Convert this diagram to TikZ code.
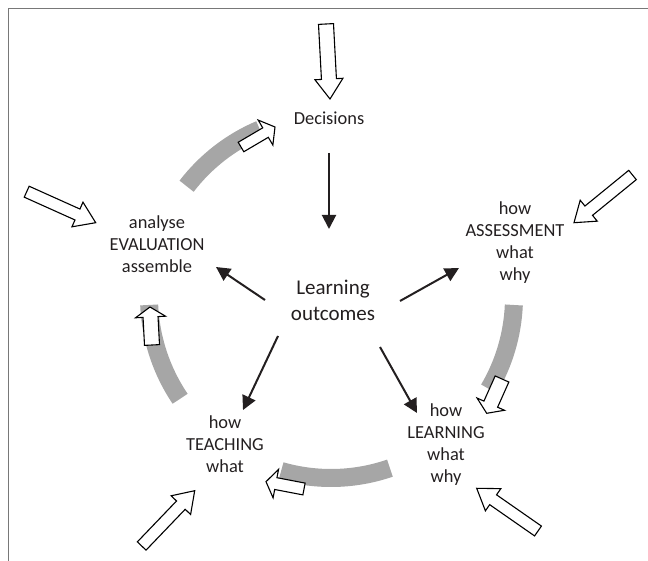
\documentclass[tikz,border=0pt]{standalone}
\usepackage{fontspec}
\setmainfont{Carlito}
\usetikzlibrary{calc,arrows.meta}
\definecolor{arcgray}{RGB}{166,166,166}
\definecolor{ink}{RGB}{35,31,32}
\definecolor{framegray}{RGB}{120,120,120}
% block arrow: #1 tail, #2 tip, #3 half body width, #4 half head width, #5 head length
\newcommand\blkarrow[5]{%
  \coordinate (bA) at ($(#2)!#5!(#1)$);
  \draw[blockarr] ($(#1)!#3!90:(#2)$) -- ($(bA)!#3!90:(#2)$) -- ($(bA)!#4!90:(#2)$) -- (#2)
    -- ($(bA)!#4!-90:(#2)$) -- ($(bA)!#3!-90:(#2)$) -- ($(#1)!#3!-90:(#2)$) -- cycle;
}
\begin{document}
\begin{tikzpicture}[x=1pt,y=1pt,
  txt/.style={font=\fontsize{18.4}{22}\selectfont, align=center, text=ink, inner sep=0pt},
  blackarr/.style={draw=ink, line width=2pt, -{Triangle[length=14pt,width=14pt]}},
  blockarr/.style={draw=black, line width=1.1pt, fill=white, line join=miter},
  grayarc/.style={draw=arcgray, line width=18pt, line cap=butt}]
\useasboundingbox (0,0) rectangle (648,-561);
% frame
\draw[framegray, line width=1.2pt] (8.5,-561) -- (8.5,-8.5) -- (648,-8.5);

% labels
\node[txt] (dec) at (329,-118) {Decisions};
\node[txt, font=\fontsize{21}{26}\selectfont] (lo) at (333,-300) {Learning\\outcomes};
\node[txt] (eval) at (157,-244) {analyse\\EVALUATION\\assemble};
\node[txt] (assess) at (515,-243) {how\\ASSESSMENT\\what\\why};
\node[txt] (teach) at (225,-444) {how\\TEACHING\\what};
\node[txt] (learn) at (446,-445) {how\\LEARNING\\what\\why};

% black arrows
\coordinate (dec-s) at (329,-153); \coordinate (lo-n) at (329,-229);
\coordinate (lo-w) at (265,-300);  \coordinate (eval-in) at (216,-267);
\coordinate (lo-e) at (400,-301);  \coordinate (assess-in) at (459,-268);
\coordinate (lo-sw) at (278,-336); \coordinate (teach-in) at (243,-410);
\coordinate (lo-se) at (380,-347); \coordinate (learn-in) at (417,-413);
\draw[blackarr] (dec-s) -- (lo-n);
\draw[blackarr] (lo-w) -- (eval-in);
\draw[blackarr] (lo-e) -- (assess-in);
\draw[blackarr] (lo-sw) -- (teach-in);
\draw[blackarr] (lo-se) -- (learn-in);

% gray cycle arcs
\coordinate (C) at (331,-297);
\draw[grayarc] ($(C)+(142.5:182)$) arc[start angle=142.5, end angle=113, radius=182];
\draw[grayarc] ($(C)+(-2.5:183)$) arc[start angle=-2.5, end angle=-30.5, radius=181];
\draw[grayarc] ($(C)+(-71:181)$) arc[start angle=-71, end angle=-106, radius=181];
\draw[grayarc] ($(C)+(214:182)$) arc[start angle=214, end angle=182.5, radius=182];

% block arrows on arcs
\coordinate (c1t) at (241,-147); \coordinate (c1h) at (275,-127);
\coordinate (c2t) at (502,-379); \coordinate (c2h) at (486.7,-413.3);
\coordinate (c3t) at (304,-489); \coordinate (c3h) at (266,-481.7);
\coordinate (c4t) at (152,-345); \coordinate (c4h) at (150,-307);
\blkarrow{c1t}{c1h}{5.5pt}{14.5pt}{11pt}
\blkarrow{c2t}{c2h}{7.5pt}{15pt}{10pt}
\blkarrow{c3t}{c3h}{6pt}{14.5pt}{10pt}
\blkarrow{c4t}{c4h}{7.5pt}{15pt}{10pt}

% outer block arrows
\coordinate (o1t) at (326,-24);    \coordinate (o1h) at (330,-99);
\coordinate (o2t) at (26.7,-191.7); \coordinate (o2h) at (95.7,-222.7);
\coordinate (o3t) at (632.5,-175); \coordinate (o3h) at (574,-222.7);
\coordinate (o4t) at (538,-531);   \coordinate (o4h) at (476.7,-488.3);
\coordinate (o5t) at (141.7,-546); \coordinate (o5h) at (194.7,-490.7);
\blkarrow{o1t}{o1h}{7.5pt}{14pt}{20pt}
\blkarrow{o2t}{o2h}{6pt}{13.5pt}{20pt}
\blkarrow{o3t}{o3h}{6pt}{13.5pt}{19pt}
\blkarrow{o4t}{o4h}{6pt}{13.5pt}{20pt}
\blkarrow{o5t}{o5h}{6pt}{13.5pt}{20pt}
\end{tikzpicture}
\end{document}
